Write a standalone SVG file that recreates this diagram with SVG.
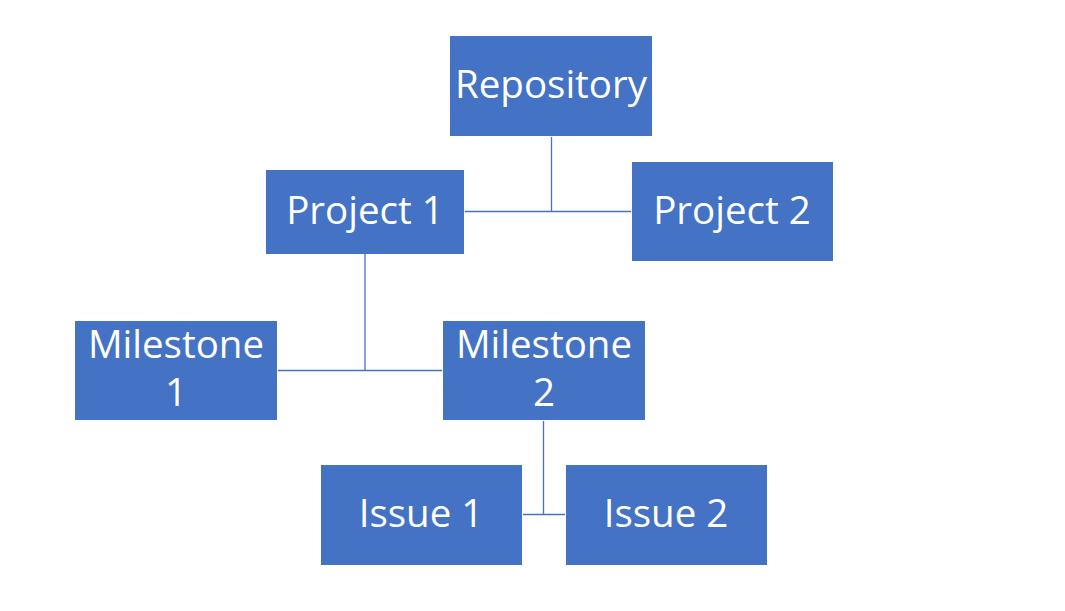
<svg xmlns="http://www.w3.org/2000/svg" width="1065" height="611" viewBox="0 0 1065 611">
<style>
.box{fill:#4472C4}
.lbl{fill:#fff;font-family:"Open Sans","Noto Sans",sans-serif;font-size:38.5px;text-anchor:middle}
.con{stroke:#4472C4;stroke-width:1.3;fill:none}
</style>
<rect width="1065" height="611" fill="#fff"/>
<g id="connectors">
<path class="con" d="M551.5 137V211.5M465 211.5H631"/>
<path class="con" d="M365 254V370.5M278 370.5H442"/>
<path class="con" d="M543.5 421V514.5M523 514.5H565"/>
</g>
<g id="repository"><rect class="box" x="450" y="36" width="202" height="100"/><text class="lbl" x="551" y="98">Repository</text></g>
<g id="project1"><rect class="box" x="266" y="170" width="198" height="84"/><text class="lbl" x="365" y="224">Project 1</text></g>
<g id="project2"><rect class="box" x="632" y="162" width="201" height="99"/><text class="lbl" x="732" y="224">Project 2</text></g>
<g id="milestone1"><rect class="box" x="75" y="321" width="202" height="99"/><text class="lbl" x="176" y="358">Milestone</text><text class="lbl" x="176" y="406">1</text></g>
<g id="milestone2"><rect class="box" x="443" y="321" width="202" height="99"/><text class="lbl" x="544" y="358">Milestone</text><text class="lbl" x="544" y="406">2</text></g>
<g id="issue1"><rect class="box" x="321" y="465" width="201" height="100"/><text class="lbl" x="421" y="527">Issue 1</text></g>
<g id="issue2"><rect class="box" x="566" y="465" width="201" height="100"/><text class="lbl" x="666" y="527">Issue 2</text></g>
</svg>
